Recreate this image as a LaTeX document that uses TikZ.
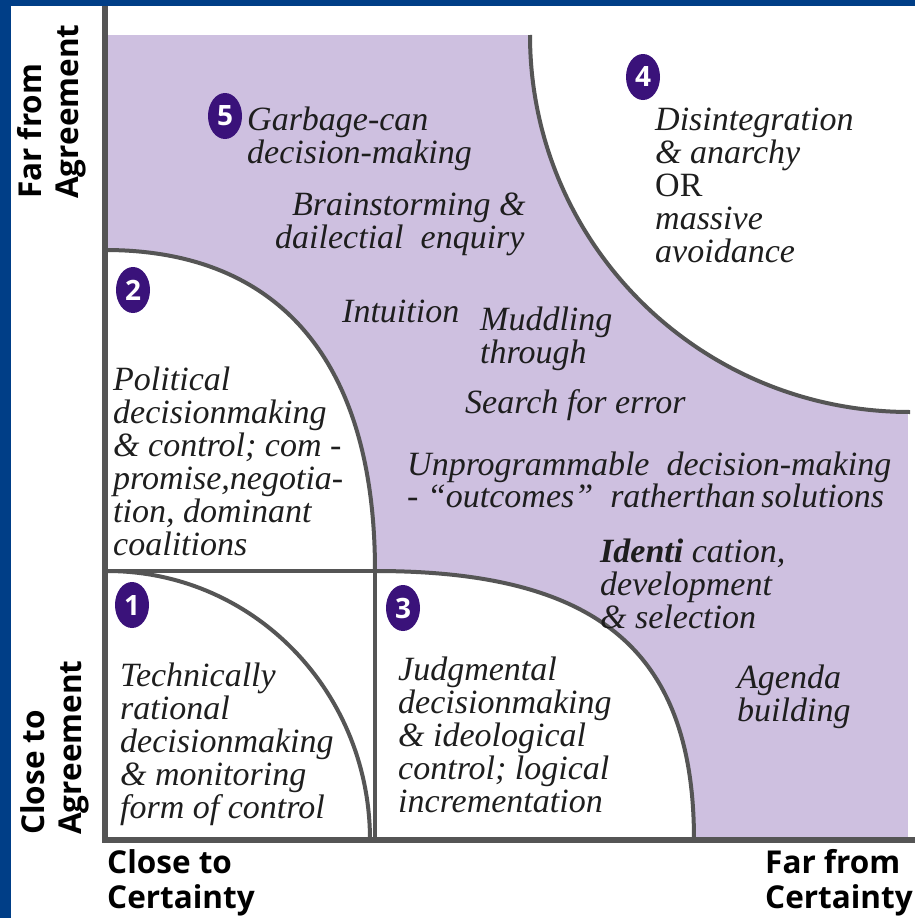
\documentclass[tikz,border=0pt]{standalone}
\usepackage{fontspec}
\setmainfont{Liberation Serif}
\setsansfont{Open Sans}
\usetikzlibrary{shapes.geometric}
\begin{document}
\begin{tikzpicture}[x=1pt, y=-1pt,
            zonetext/.style={ anchor=base west, align=left, inner sep=0pt, text={rgb,255:red,30;green,30;blue,30}, font=\fontsize{34}{33}\selectfont\itshape },
            axislabel/.style={ anchor=north west, align=left, inner sep=0pt, font=\fontsize{31.5}{37}\selectfont\sffamily\bfseries },
            badge/.style={ ellipse, fill={rgb,255:red,58;green,18;blue,122}, text=white, minimum width=34pt, minimum height=46pt, inner sep=0pt, font=\fontsize{28}{28}\selectfont\sffamily\bfseries },
            border/.style={ draw={rgb,255:red,85;green,85;blue,85}, line width=4pt }]
            \useasboundingbox (0,0) rectangle (915,918);
            \fill [ white ] (0,0) rectangle (915,918);
            \fill [ fill={rgb,255:red,0;green,62;blue,135} ] (0,0) rectangle (915,6);
            \fill [ fill={rgb,255:red,0;green,62;blue,135} ] (0,0) rectangle (11,918);
            \coordinate (top) at (105,6);
            \coordinate (origin) at (105,840);
            \coordinate (right) at (915,840);
            \fill [ fill={rgb,255:red,206;green,192;blue,224} ] (105,35) rectangle (908,840);
            \fill [ white ] (530,33) .. controls (530,243) and (699,412) .. (908,412) -- (908,33) -- cycle;
            \fill [ white ] (105,250) .. controls (280,250) and (375,362) .. (375,571) -- (105,571) -- cycle;
            \fill [ white ] (105,571) rectangle (375,840);
            \fill [ white ] (375,571) .. controls (598,571) and (694,651) .. (694,840) -- (375,840) -- cycle;
            \draw [ border ] (530,35) .. controls (530,243) and (699,412) .. (910,412);
            \draw [ border ] (105,250) .. controls (280,250) and (375,362) .. (375,571);
            \draw [ border ] (105,571) -- (375,571) -- (375,840);
            \draw [ border ] (107,571) .. controls (253,571) and (370,691) .. (370,840);
            \draw [ border ] (375,571) .. controls (598,571) and (694,651) .. (694,840);
            \draw [ border, line width=6pt ] (top) -- (origin) -- (right);
            \node [ badge ] (b5) at (225,116) {5};
            \node [ zonetext ] (garbage) at (247,163) {Garbage-can\\decision-making};
            \node [ zonetext ] (brain) at (275,248) {\hspace*{17pt}Brainstorming \&\\dailectial\ \ enquiry};
            \node [ zonetext ] (intuition) at (342,322) {Intuition};
            \node [ zonetext ] (muddling) at (480,363) {Muddling\\through};
            \node [ zonetext ] (search) at (465,413) {Search for error};
            \node [ zonetext, font=\fontsize{34}{30}\selectfont\itshape ] (unprog) at (407,507) {Unprogrammable\ \ decision-making\\- ``outcomes''\ \ ratherthan\,solutions};
            \node [ zonetext ] (ident) at (600,628) {\textbf{Identi} cation,\\development\\\& selection};
            \node [ zonetext ] (agenda) at (737,721) {Agenda\\building};
            \node [ badge ] (b4) at (643,77) {4};
            \node [ zonetext ] (disint) at (655,262) {Disintegration\\\& anarchy\\\textup{OR}\\massive\\avoidance};
            \node [ badge ] (b2) at (133,290) {2};
            \node [ zonetext ] (political) at (113,555) {Political\\decisionmaking\\\& control; com -\\promise,negotia-\\tion, dominant\\coalitions};
            \node [ badge ] (b1) at (132,605) {1};
            \node [ zonetext ] (technical) at (120,818) {Technically\\rational\\decisionmaking\\\& monitoring\\form of control};
            \node [ badge ] (b3) at (403,608) {3};
            \node [ zonetext ] (judgment) at (398,812) {Judgmental\\decisionmaking\\\& ideological\\control; logical\\incrementation};
            \node [ axislabel, rotate=90 ] (faragree) at (17,199) {Far from\\Agreement};
            \node [ axislabel, rotate=90 ] (closeagree) at (20,835) {Close to\\Agreement};
            \node [ axislabel, font=\fontsize{31.5}{35}\selectfont\sffamily\bfseries ] (closecert) at (107,849) {Close to\\Certainty};
            \node [ axislabel, font=\fontsize{31.5}{35}\selectfont\sffamily\bfseries ] (farcert) at (765,849) {Far from\\Certainty};
\end{tikzpicture}
\end{document}
